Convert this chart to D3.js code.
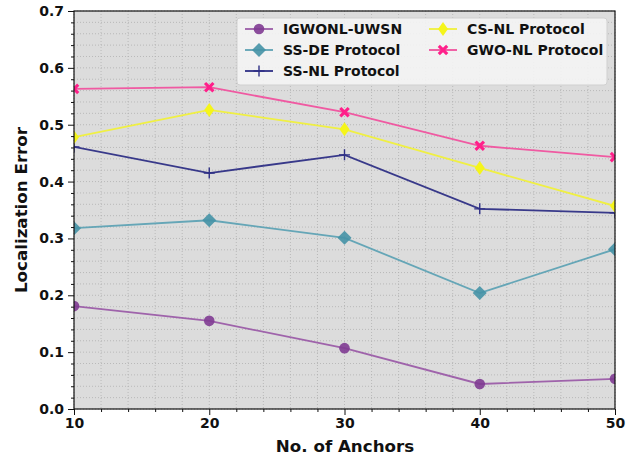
<!DOCTYPE html>
<html><head><meta charset="utf-8">
<script src="https://cdn.jsdelivr.net/npm/d3@7"></script>
<style>body{margin:0;background:#fff}svg{display:block}</style>
</head><body><svg id="c" width="633" height="459"></svg>
<script>
const anchors = [10, 20, 30, 40, 50];
const igwonl = [0.181, 0.155, 0.107, 0.044, 0.053];
const ssde   = [0.318, 0.332, 0.301, 0.204, 0.281];
const ssnl   = [0.461, 0.415, 0.447, 0.352, 0.345];
const csnl   = [0.478, 0.526, 0.492, 0.424, 0.357];
const gwonl  = [0.563, 0.566, 0.522, 0.463, 0.443];
const seriesNames = ["IGWONL-UWSN", "SS-DE Protocol", "SS-NL Protocol", "CS-NL Protocol", "GWO-NL Protocol"];
const yTicks = [0.0, 0.1, 0.2, 0.3, 0.4, 0.5, 0.6, 0.7];
const xTicks = [10, 20, 30, 40, 50];

const series = [
  {name: seriesNames[0], values: igwonl, line: "#9b5ca8", mark: "#7f3b92", shape: "circle"},
  {name: seriesNames[1], values: ssde, line: "#5ea2b4", mark: "#4592a6", shape: "diamond"},
  {name: seriesNames[2], values: ssnl, line: "#2e2f85", mark: "#2e2f85", shape: "plus"},
  {name: seriesNames[3], values: csnl, line: "#f0f03a", mark: "#f5f51a", shape: "thindiamond"},
  {name: seriesNames[4], values: gwonl, line: "#f0529e", mark: "#ff1f8a", shape: "x"}
];

const svg = d3.select("#c");
const L = 74, R = 615, T = 11, B = 409;
const x = d3.scaleLinear().domain([10, 50]).range([L, R]);
const y = d3.scaleLinear().domain([0, 0.7]).range([B, T]);

svg.append("rect").attr("x", L).attr("y", T).attr("width", R - L).attr("height", B - T).attr("fill", "#dcdcdc");

const g = svg.append("g");
const xMinor = d3.range(10, 50.01, 2);
const yMinor = d3.range(0, 0.7001, 0.02);
g.selectAll(".vx").data(xMinor).enter().append("line")
  .attr("x1", d => x(d)).attr("x2", d => x(d)).attr("y1", T).attr("y2", B)
  .attr("stroke", "#b0b0b0").attr("stroke-width", 0.8).attr("stroke-dasharray", "1,2");
g.selectAll(".hy").data(yMinor).enter().append("line")
  .attr("y1", d => y(d)).attr("y2", d => y(d)).attr("x1", L).attr("x2", R)
  .attr("stroke", "#b0b0b0").attr("stroke-width", 0.8).attr("stroke-dasharray", "1,2");

const font = "DejaVu Sans";
const xAxis = svg.append("g").attr("transform", `translate(0,${B})`)
  .call(d3.axisBottom(x).tickValues(xTicks).tickFormat(d3.format("d")).tickSize(6).tickPadding(3));
xAxis.append("g").call(d3.axisBottom(x).tickValues(xMinor.filter(v => v % 10 !== 0)).tickSize(3).tickFormat(""));
const yAxis = svg.append("g").attr("transform", `translate(${L},0)`)
  .call(d3.axisLeft(y).tickValues(yTicks).tickFormat(d3.format(".1f")).tickSize(6).tickPadding(4));
yAxis.append("g").call(d3.axisLeft(y).tickValues(yMinor.filter((v, i) => i % 5 !== 0)).tickSize(3).tickFormat(""));
[xAxis, yAxis].forEach(a => {
  a.selectAll("text").attr("font-family", font).attr("font-weight", "bold").attr("font-size", 14).attr("fill", "#111");
  a.selectAll("path.domain").remove();
  a.selectAll("line").attr("stroke", "#111");
});

svg.append("text").attr("x", (L + R) / 2 + 0.5).attr("y", 452).attr("text-anchor", "middle")
  .attr("font-family", font).attr("font-weight", "bold").attr("font-size", 16.7).attr("fill", "#111").text("No. of Anchors");
svg.append("text").attr("transform", `translate(27,${(T + B) / 2}) rotate(-90)`).attr("text-anchor", "middle")
  .attr("font-family", font).attr("font-weight", "bold").attr("font-size", 16.7).attr("fill", "#111").text("Localization Error");

function marker(sel, s, cx, cy) {
  if (s.shape === "circle") {
    sel.append("circle").attr("cx", cx).attr("cy", cy).attr("r", 5.3).attr("fill", s.mark).attr("opacity", 0.9);
  } else if (s.shape === "diamond") {
    sel.append("path").attr("d", `M${cx},${cy - 7}L${cx + 7},${cy}L${cx},${cy + 7}L${cx - 7},${cy}Z`).attr("fill", s.mark).attr("opacity", 0.9);
  } else if (s.shape === "thindiamond") {
    sel.append("path").attr("d", `M${cx},${cy - 7}L${cx + 5},${cy}L${cx},${cy + 7}L${cx - 5},${cy}Z`).attr("fill", s.mark);
  } else if (s.shape === "plus") {
    sel.append("path").attr("d", `M${cx - 5.5},${cy}H${cx + 5.5}M${cx},${cy - 5.5}V${cy + 5.5}`).attr("stroke", s.mark).attr("stroke-width", 1.4);
  } else if (s.shape === "x") {
    const a = 2.2, b = 5.3;
    sel.append("path").attr("d",
      `M${cx - b},${cy - b + a}L${cx - b + a},${cy - b}L${cx},${cy - a}L${cx + b - a},${cy - b}L${cx + b},${cy - b + a}L${cx + a},${cy}L${cx + b},${cy + b - a}L${cx + b - a},${cy + b}L${cx},${cy + a}L${cx - b + a},${cy + b}L${cx - b},${cy + b - a}L${cx - a},${cy}Z`)
      .attr("fill", s.mark);
  }
}

svg.append("defs").append("clipPath").attr("id", "pc")
  .append("rect").attr("x", L).attr("y", T).attr("width", R - L).attr("height", B - T);
const plot = svg.append("g").attr("clip-path", "url(#pc)");
const line = d3.line().x((d, i) => x(anchors[i])).y(d => y(d));
series.forEach(s => {
  plot.append("path").datum(s.values).attr("d", line).attr("fill", "none")
    .attr("stroke", s.line).attr("stroke-width", 1.8).attr("opacity", 0.95);
  s.values.forEach((v, i) => marker(plot, s, x(anchors[i]), y(v)));
});

// frame
svg.append("rect").attr("x", L).attr("y", T).attr("width", R - L).attr("height", B - T)
  .attr("fill", "none").attr("stroke", "#111").attr("stroke-width", 1.2);

// legend
const lg = svg.append("g");
lg.append("rect").attr("x", 237).attr("y", 18).attr("width", 370).attr("height", 67).attr("rx", 3)
  .attr("fill", "#f4f4f4").attr("fill-opacity", 0.9).attr("stroke", "#d0d0d0");
const pos = [[245, 29], [245, 50], [245, 71], [429, 29], [429, 50]];
series.forEach((s, i) => {
  const [lx, ly] = pos[i];
  lg.append("line").attr("x1", lx).attr("x2", lx + 28).attr("y1", ly).attr("y2", ly).attr("stroke", s.line).attr("stroke-width", 1.8);
  marker(lg, s, lx + 14, ly);
  lg.append("text").attr("x", lx + 38).attr("y", ly + 5).attr("font-family", font).attr("font-weight", "bold")
    .attr("font-size", 14).attr("fill", "#111").text(s.name);
});
</script></body></html>
